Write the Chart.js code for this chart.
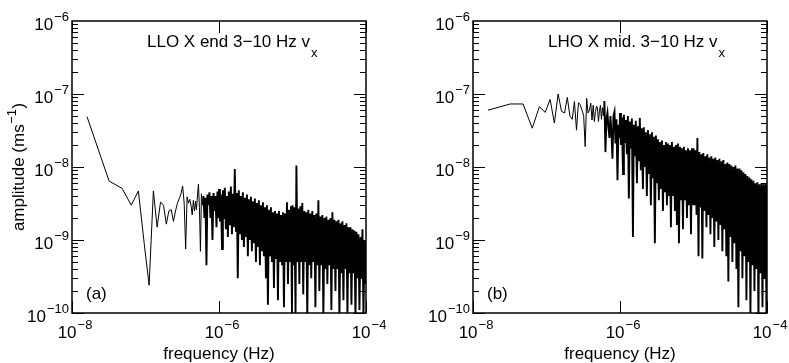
<!DOCTYPE html>
<html>
<head>
<meta charset="utf-8">
<script src="https://cdn.jsdelivr.net/npm/chart.js@4"></script>
<style>
  body { margin: 0; background: #fff; }
  canvas { position: absolute; top: 0; }
  #llo { left: 0; }
  #lho { left: 400px; }
</style>
</head>
<body>
<canvas id="llo" width="395" height="363"></canvas>
<canvas id="lho" width="389" height="363"></canvas>
<script>
// frequency grid (Hz), shared by both spectra
const freq = [
  1.6e-8, 3.2e-8, 4.8e-8, 6.4e-8, 8.0e-8, 9.6e-8, 1.12e-7, 1.28e-7, 1.44e-7, 1.6e-7,
  1.76e-7, 1.92e-7, 2.08e-7, 2.24e-7, 2.4e-7, 2.56e-7, 2.72e-7, 2.88e-7, 3.04e-7, 3.2e-7,
  3.36e-7, 3.52e-7, 3.68e-7, 3.84e-7, 4.0e-7, 4.16e-7, 4.32e-7, 4.48e-7, 4.64e-7, 4.8e-7,
  4.93e-7, 5.09e-7, 5.25e-7, 5.42e-7, 5.59e-7, 5.77e-7, 5.95e-7, 6.14e-7, 6.34e-7, 6.54e-7, 6.75e-7, 6.96e-7,
  7.19e-7, 7.41e-7, 7.65e-7, 7.89e-7, 8.15e-7, 8.41e-7, 8.68e-7, 8.95e-7, 9.24e-7, 9.53e-7, 9.84e-7,
  1.00e-6, 1.03e-6, 1.06e-6, 1.10e-6, 1.13e-6, 1.17e-6, 1.20e-6, 1.24e-6, 1.28e-6, 1.32e-6,
  1.36e-6, 1.40e-6, 1.45e-6, 1.50e-6, 1.54e-6, 1.59e-6, 1.64e-6, 1.70e-6, 1.75e-6, 1.80e-6,
  1.86e-6, 1.92e-6, 1.98e-6, 2.05e-6, 2.11e-6, 2.18e-6, 2.25e-6, 2.32e-6, 2.40e-6, 2.47e-6,
  2.55e-6, 2.63e-6, 2.72e-6, 2.80e-6, 2.89e-6, 2.98e-6, 3.08e-6, 3.18e-6, 3.28e-6, 3.38e-6,
  3.49e-6, 3.60e-6, 3.72e-6, 3.84e-6, 3.96e-6, 4.08e-6, 4.22e-6, 4.35e-6, 4.49e-6, 4.63e-6,
  4.78e-6, 4.93e-6, 5.09e-6, 5.25e-6, 5.42e-6, 5.59e-6, 5.77e-6, 5.95e-6, 6.14e-6, 6.34e-6,
  6.54e-6, 6.75e-6, 6.96e-6, 7.19e-6, 7.41e-6, 7.65e-6, 7.89e-6, 8.15e-6, 8.41e-6, 8.68e-6,
  8.95e-6, 9.24e-6, 9.53e-6, 9.84e-6,
  1.00e-5, 1.03e-5, 1.06e-5, 1.10e-5, 1.13e-5, 1.17e-5, 1.20e-5, 1.24e-5, 1.28e-5, 1.32e-5,
  1.36e-5, 1.40e-5, 1.45e-5, 1.50e-5, 1.54e-5, 1.59e-5, 1.64e-5, 1.70e-5, 1.75e-5, 1.80e-5,
  1.86e-5, 1.92e-5, 1.98e-5, 2.05e-5, 2.11e-5, 2.18e-5, 2.25e-5, 2.32e-5, 2.40e-5, 2.47e-5,
  2.55e-5, 2.63e-5, 2.72e-5, 2.80e-5, 2.89e-5, 2.98e-5, 3.08e-5, 3.18e-5, 3.28e-5, 3.38e-5,
  3.49e-5, 3.60e-5, 3.72e-5, 3.84e-5, 3.96e-5, 4.08e-5, 4.22e-5, 4.35e-5, 4.49e-5, 4.63e-5,
  4.78e-5, 4.93e-5, 5.09e-5, 5.25e-5, 5.42e-5, 5.59e-5, 5.77e-5, 5.95e-5, 6.14e-5, 6.34e-5,
  6.54e-5, 6.75e-5, 6.96e-5, 7.19e-5, 7.41e-5, 7.65e-5, 7.89e-5, 8.15e-5, 8.41e-5, 8.68e-5,
  8.95e-5, 9.24e-5, 9.53e-5, 9.84e-5,
  1.0e-4
];

// LLO X end, amplitude (m/s)
const ampLLO = [
  4.9e-8, 6.4e-9, 5.1e-9, 3.0e-9, 4.7e-9, 9e-10, 2.4e-10, 4.7e-9, 1.5e-9, 3.3e-9,
  3.0e-9, 1.65e-9, 2.5e-9, 2.6e-9, 1.8e-9, 2.5e-9, 3.2e-9, 3.7e-9, 4.3e-9, 5.5e-9,
  3.2e-9, 7.5e-10, 3.9e-9, 3.2e-9, 3.6e-9, 3.0e-9, 2.2e-9, 3.5e-9, 2.5e-9, 3.4e-9,
  2.6e-9, 4.0e-9, 5.8e-9, 2.8e-9, 7e-10, 4.3e-9, 3.0e-9, 4.0e-9, 2.0e-9, 3.8e-9, 4.5e-10, 4.2e-9,
  3.0e-9, 4.5e-9, 2.0e-9, 4.0e-9, 1.0e-9, 4.4e-9, 2.5e-9, 4.0e-9, 1.5e-9, 4.6e-9, 2.0e-9,
  5.0e-9, 1.8e-9, 4.2e-9, 7.5e-10, 4.8e-9, 2.0e-9, 5.2e-9, 1.4e-9, 4.0e-9, 1.1e-9,
  4.6e-9, 1.6e-9, 5.4e-9, 1.2e-9, 4.3e-9, 1.5e-9, 9.4e-9, 1.3e-9, 4.4e-9, 3.0e-10,
  4.8e-9, 1.2e-9, 4.0e-9, 1.0e-9, 4.5e-9, 8e-10, 3.8e-9, 1.1e-9, 4.2e-9, 6e-10,
  3.6e-9, 1.0e-9, 3.9e-9, 7e-10, 3.4e-9, 9e-10, 3.7e-9, 5e-10, 3.2e-9, 8e-10,
  3.5e-9, 4.5e-10, 3.0e-9, 7e-10, 3.3e-9, 6e-10, 2.8e-9, 3e-10, 3.0e-9, 1.3e-10,
  2.6e-9, 6e-10, 2.8e-9, 5e-10, 2.4e-9, 2.2e-10, 2.5e-9, 5.5e-10, 2.3e-9, 1.5e-10,
  2.5e-9, 5e-10, 2.2e-9, 4.5e-10, 2.4e-9, 1.2e-10, 2.3e-9, 5e-10, 3.3e-9, 2.5e-10,
  2.6e-9, 5e-10, 2.9e-9, 1.0e-10,
  3.0e-9, 4.5e-10, 2.8e-9, 1.0e-10, 1.05e-8, 5e-10, 2.7e-9, 2.5e-10, 2.9e-9, 5e-10,
  3.2e-9, 1.8e-10, 2.5e-9, 5e-10, 2.4e-9, 8e-11, 2.6e-9, 4.5e-10, 2.3e-9, 3e-10,
  2.5e-9, 5e-10, 2.2e-9, 1.2e-10, 2.3e-9, 4.5e-10, 3.5e-9, 2e-10, 2.1e-9, 4.5e-10,
  2.2e-9, 9e-11, 2.0e-9, 4e-10, 2.1e-9, 2.5e-10, 1.9e-9, 4.5e-10, 2.0e-9, 1.1e-10,
  2.4e-9, 4e-10, 1.9e-9, 2e-10, 1.8e-9, 4e-10, 1.9e-9, 8e-11, 1.7e-9, 3.5e-10,
  1.8e-9, 1.5e-10, 1.6e-9, 4e-10, 1.7e-9, 9e-11, 1.5e-9, 3.5e-10, 1.5e-9, 1.3e-10,
  1.4e-9, 3.5e-10, 1.35e-9, 8e-11, 1.3e-9, 3e-10, 1.2e-9, 1.1e-10, 1.1e-9, 3e-10,
  1.4e-9, 9e-11, 1.0e-9, 2.5e-10,
  9e-10
];

// LHO X mid., amplitude (m/s)
const ampLHO = [
  6.0e-8, 7.3e-8, 7.3e-8, 3.4e-8, 6.7e-8, 5.6e-8, 8.4e-8, 4.0e-8, 1.0e-7, 5.8e-8,
  5.5e-8, 9.0e-8, 5.0e-8, 4.5e-8, 7.9e-8, 3.2e-8, 7.6e-8, 7.1e-8, 6.0e-8, 5.1e-8,
  1.9e-8, 8.7e-8, 5.5e-8, 6.0e-8, 7.5e-8, 4.4e-8, 7.0e-8, 4.2e-8, 5.8e-8, 6.8e-8,
  6.5e-8, 4.2e-8, 5.8e-8, 7.0e-8, 4.5e-8, 6.5e-8, 5.0e-8, 8.0e-8, 1.6e-8, 4.5e-8, 5.5e-8, 3.5e-8,
  2.5e-8, 5.0e-8, 3.0e-8, 1.3e-8, 5.0e-8, 5.7e-8, 2.1e-8, 4.5e-8, 6.6e-9, 3.8e-8, 2.5e-8,
  5.5e-8, 2.0e-8, 4.8e-8, 8e-9, 5.2e-8, 2.2e-8, 4.4e-8, 1.5e-8, 5.0e-8, 3.7e-9,
  4.2e-8, 1.8e-8, 4.6e-8, 1.1e-9, 3.8e-8, 1.4e-8, 4.3e-8, 6e-9, 3.6e-8, 1.2e-8,
  4.7e-8, 9e-9, 3.4e-8, 5e-9, 3.5e-8, 1.0e-8, 3.0e-8, 4e-9, 3.2e-8, 8e-9,
  2.8e-8, 3e-9, 3.0e-8, 7e-9, 2.6e-8, 9e-10, 2.7e-8, 6e-9, 2.4e-8, 3.5e-9,
  2.2e-8, 5e-9, 2.3e-8, 2.5e-9, 2.0e-8, 4.5e-9, 2.2e-8, 3e-9, 2.1e-8, 4e-9,
  2.0e-8, 1.5e-9, 2.2e-8, 4e-9, 1.9e-8, 2.5e-9, 2.0e-8, 1.6e-9, 2.1e-8, 9e-10,
  1.9e-8, 3.5e-9, 1.8e-8, 1.4e-9, 1.9e-8, 3.5e-9, 1.7e-8, 2.0e-9, 1.8e-8, 3e-9,
  1.7e-8, 1.2e-9, 1.8e-8, 3e-9,
  1.8e-8, 3e-9, 1.7e-8, 2.2e-9, 2.5e-8, 6e-10, 1.6e-8, 2.8e-9, 1.5e-8, 5.6e-10,
  1.55e-8, 2.5e-9, 1.4e-8, 1.5e-9, 1.5e-8, 2.2e-9, 1.35e-8, 1.2e-9, 1.4e-8, 2e-9,
  1.3e-8, 8e-10, 1.35e-8, 1.8e-9, 1.25e-8, 1.0e-9, 1.3e-8, 1.6e-9, 1.2e-8, 7e-10,
  1.25e-8, 1.4e-9, 1.1e-8, 6e-10, 1.15e-8, 2.7e-10, 1.1e-8, 1.1e-9, 1.05e-8, 5e-10,
  1.0e-8, 9e-10, 1.05e-8, 4e-10, 9.5e-9, 1.2e-10, 9.5e-9, 7e-10, 9e-9, 3e-10,
  8.5e-9, 6e-10, 8e-9, 1.5e-10, 7.5e-9, 5e-10, 7.2e-9, 9e-11, 6.8e-9, 4.5e-10,
  6.5e-9, 2e-10, 6.0e-9, 4e-10, 6.2e-9, 8e-11, 5.8e-9, 3.5e-10, 6.0e-9, 1.2e-10,
  5.8e-9, 3e-10, 6.0e-9, 9e-11,
  5.5e-9
];

// axis decades (powers of ten)
const xTickExps = [-8, -6, -4];
const yTickExps = [-10, -9, -8, -7, -6];

const FONT = '"Liberation Sans", Arial, Helvetica, sans-serif';
const big = '17px ' + FONT;
const small = '13px ' + FONT;

// "10" with a raised exponent
function pow10(ctx, exp, x, base, align) {
  ctx.font = big;
  const w1 = ctx.measureText('10').width;
  const sup = '\u2212' + Math.abs(exp);
  ctx.font = small;
  const w2 = ctx.measureText(sup).width;
  const x0 = align === 'right' ? x - w1 - w2 - 1 : x - (w1 + w2 + 1) / 2;
  ctx.font = big;
  ctx.fillText('10', x0, base);
  ctx.font = small;
  ctx.fillText(sup, x0 + w1 + 1, base - 9);
}

const decor = {
  id: 'decor',
  afterDatasetsDraw(chart, args, o) {
    const { ctx, chartArea: a, scales: { x, y } } = chart;
    ctx.save();
    ctx.strokeStyle = '#000';
    ctx.fillStyle = '#000';
    ctx.textAlign = 'left';
    ctx.textBaseline = 'alphabetic';

    // inward ticks, log minors on y
    ctx.lineWidth = 1;
    ctx.beginPath();
    for (let i = 0; i < yTickExps.length - 1; i++) {
      for (let m = 1; m < 10; m++) {
        const py = Math.round(y.getPixelForValue(m * Math.pow(10, yTickExps[i]))) + 0.5;
        const len = m === 1 ? 12 : 6;
        ctx.moveTo(a.left, py); ctx.lineTo(a.left + len, py);
        ctx.moveTo(a.right, py); ctx.lineTo(a.right - len, py);
      }
    }
    xTickExps.forEach(e => {
      const px = Math.round(x.getPixelForValue(Math.pow(10, e))) + 0.5;
      ctx.moveTo(px, a.bottom); ctx.lineTo(px, a.bottom - 12);
      ctx.moveTo(px, a.top); ctx.lineTo(px, a.top + 12);
    });
    ctx.stroke();

    ctx.lineWidth = 1.5;
    ctx.strokeRect(a.left, a.top, a.right - a.left, a.bottom - a.top);

    // tick labels
    yTickExps.forEach(e => {
      const py = y.getPixelForValue(Math.pow(10, e));
      pow10(ctx, e, a.left - 3, py + 9, 'right');
    });
    xTickExps.forEach(e => {
      const px = x.getPixelForValue(Math.pow(10, e));
      pow10(ctx, e, px + 3, a.bottom + 25, 'center');
    });

    // x title
    ctx.font = big;
    ctx.textAlign = 'center';
    ctx.fillText('frequency (Hz)', (a.left + a.right) / 2, a.bottom + 46);
    ctx.textAlign = 'left';

    // y title, rotated
    if (o.yTitle) {
      ctx.save();
      ctx.translate(24, (a.top + a.bottom) / 2);
      ctx.rotate(-Math.PI / 2);
      ctx.font = big;
      const t1 = 'amplitude (ms', t3 = ')';
      const w1 = ctx.measureText(t1).width, w3 = ctx.measureText(t3).width;
      ctx.font = small;
      const t2 = '\u22121';
      const w2 = ctx.measureText(t2).width;
      let sx = -(w1 + w2 + w3 + 1) / 2;
      ctx.font = big; ctx.fillText(t1, sx, 0);
      ctx.font = small; ctx.fillText(t2, sx + w1 + 0.5, -8);
      ctx.font = big; ctx.fillText(t3, sx + w1 + w2 + 1, 0);
      ctx.restore();
    }

    // annotation with subscript
    ctx.font = big;
    const lx = a.left + 75, ly = a.top + 26;
    ctx.fillText(o.label, lx, ly);
    const lw = ctx.measureText(o.label).width;
    ctx.font = small;
    ctx.fillText('x', lx + lw + 1, ly + 10);

    // panel letter
    ctx.font = big;
    ctx.fillText(o.letter, a.left + 14, a.bottom - 14);
    ctx.restore();
  }
};

function makePanel(id, amp, label, letter, yTitle, padLeft, padRight) {
  const points = freq.map((f, i) => ({ x: f, y: amp[i] }));
  return new Chart(document.getElementById(id).getContext('2d'), {
    type: 'line',
    data: {
      datasets: [{
        data: points,
        borderColor: '#000',
        borderWidth: 1,
        pointRadius: 0,
        tension: 0,
        fill: false,
        // the densely sampled part of the spectrum renders as a solid band
        segment: {
          borderWidth: c => (c.p0.parsed.x >= 6e-7 ? 1.9 : 1)
        }
      }]
    },
    options: {
      responsive: false,
      animation: false,
      devicePixelRatio: 1,
      layout: { padding: { left: padLeft, right: padRight, top: 21, bottom: 50 } },
      scales: {
        x: { type: 'logarithmic', min: 1e-8, max: 1e-4, display: false },
        y: { type: 'logarithmic', min: 1e-10, max: 1e-6, display: false }
      },
      plugins: {
        legend: { display: false },
        tooltip: { enabled: false },
        decor: { label: label, letter: letter, yTitle: yTitle }
      }
    },
    plugins: [decor]
  });
}

makePanel('llo', ampLLO, 'LLO X end 3\u221210 Hz v', '(a)', true, 72, 29);
makePanel('lho', ampLHO, 'LHO X mid. 3\u221210 Hz v', '(b)', false, 73, 22);
</script>
</body>
</html>
